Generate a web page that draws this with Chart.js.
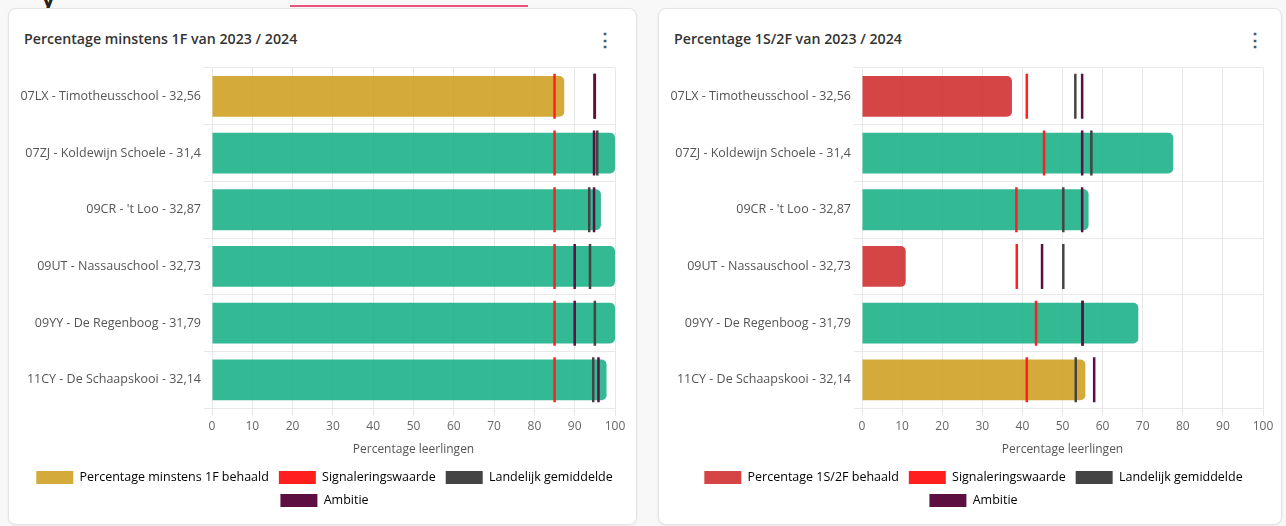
<!DOCTYPE html>
<html>
<head>
<meta charset="utf-8">
<script src="https://cdn.jsdelivr.net/npm/chart.js@4.4.1/dist/chart.umd.min.js"></script>
<style>
  body { margin: 0; width: 1286px; height: 526px; overflow: hidden; background: #f8f8f8; font-family: 'Open Sans', sans-serif; position: relative; }
  .card { position: absolute; top: 8px; height: 517px; background: #fff; border: 1px solid #e3e3e3; border-radius: 8px; box-shadow: 0 1px 3px rgba(0,0,0,0.06); box-sizing: border-box; }
  .title { position: absolute; left: 15px; top: 20px; font-size: 14.2px; font-weight: 600; color: #333; }
  .kebab { position: absolute; top: 20px; left: 587px; font-size: 18px; font-weight: 700; color: #555; line-height: 20px; }
  .wrap { position: absolute; left: 0; top: 34px; bottom: 7px; }
  .topline { position: absolute; left: 290px; top: 5px; width: 238px; height: 2px; background: #e8537a; }
  .cut { position: absolute; left: 42px; top: -17px; font-size: 22px; font-weight: 700; color: #222; }
</style>
</head>
<body>
<div class="cut">y</div>
<div class="topline"></div>
<div class="card" style="left:8px; width:629px;">
  <div class="title">Percentage minstens 1F van 2023 / 2024</div>
  <div class="kebab">&#8942;</div>
  <div class="wrap" style="right:-4px;"><canvas id="chart1"></canvas></div>
</div>
<div class="card" style="left:658px; width:624px;">
  <div class="title">Percentage 1S/2F van 2023 / 2024</div>
  <div class="kebab">&#8942;</div>
  <div class="wrap" style="right:-7px;"><canvas id="chart2"></canvas></div>
</div>
<script>
// Scholen (y-as)
const schools = ['07LX - Timotheusschool - 32,56', '07ZJ - Koldewijn Schoele - 31,4', "09CR - 't Loo - 32,87", '09UT - Nassauschool - 32,73', '09YY - De Regenboog - 31,79', '11CY - De Schaapskooi - 32,14'];
const xTicks = [0, 10, 20, 30, 40, 50, 60, 70, 80, 90, 100];

// 1F
const pct1F = [87.4, 100, 96.5, 100, 100, 97.9];
const signal1F = [85, 85, 85, 85, 85, 85];
const landelijk1F = [94.9, 95.6, 93.6, 93.8, 95.0, 94.6];
const ambitie1F = [95.0, 94.8, 94.8, 90.0, 90.0, 95.9];

// 1S/2F
const pct2F = [37.4, 77.6, 56.5, 10.9, 68.9, 55.7];
const signal2F = [41.1, 45.4, 38.5, 38.6, 43.4, 41.1];
const landelijk2F = [53.2, 57.2, 50.2, 50.2, 55.0, 53.3];
const ambitie2F = [54.9, 54.9, 54.9, 44.9, 55.0, 57.9];

const GREEN = 'rgba(15,173,129,0.85)';
const GOLD = 'rgba(204,156,23,0.85)';
const RED = 'rgba(207,36,36,0.85)';
const SIGNAL = '#ff1f1f';
const LANDELIJK = '#444444';
const AMBITIE = '#5c0f40';

Chart.defaults.font.family = "'Open Sans', sans-serif";
Chart.defaults.font.size = 12;
Chart.defaults.color = '#666';

function barColors(pct, signal, ambitie) {
    return pct.map((v, i) => v < signal[i] ? RED : (v < ambitie[i] ? GOLD : GREEN));
}

function marker(label, data, color, order) {
    return {
        type: 'line', label: label, data: data, order: order,
        indexAxis: 'y', showLine: false,
        pointStyle: 'line', pointRotation: 90,
        pointRadius: 22.5, pointHoverRadius: 22.5,
        pointBorderColor: color, pointBackgroundColor: color,
        pointBorderWidth: 2.5, borderColor: color, backgroundColor: color
    };
}

function makeChart(id, barLabel, pct, signal, landelijk, ambitie) {
    const colors = barColors(pct, signal, ambitie);
    new Chart(document.getElementById(id), {
        type: 'bar',
        data: {
            labels: schools,
            datasets: [
                { label: barLabel, data: pct, backgroundColor: colors, borderRadius: 5, borderSkipped: 'start', order: 4 },
                marker('Signaleringswaarde', signal, SIGNAL, 3),
                marker('Landelijk gemiddelde', landelijk, LANDELIJK, 2),
                marker('Ambitie', ambitie, AMBITIE, 1)
            ]
        },
        options: {
            indexAxis: 'y',
            maintainAspectRatio: false,
            animation: false,
            events: [],
            layout: { padding: 0 },
            plugins: {
                tooltip: { enabled: false },
                legend: {
                    position: 'bottom',
                    labels: {
                        boxWidth: 37, boxHeight: 13, color: '#555',
                        font: { size: 12.5 },
                        generateLabels: () => [
                            { text: barLabel, fillStyle: colors[0], strokeStyle: colors[0], lineWidth: 0, datasetIndex: 0 },
                            { text: 'Signaleringswaarde', fillStyle: SIGNAL, strokeStyle: SIGNAL, lineWidth: 0, datasetIndex: 1 },
                            { text: 'Landelijk gemiddelde', fillStyle: LANDELIJK, strokeStyle: LANDELIJK, lineWidth: 0, datasetIndex: 2 },
                            { text: 'Ambitie', fillStyle: AMBITIE, strokeStyle: AMBITIE, lineWidth: 0, datasetIndex: 3 }
                        ]
                    }
                }
            },
            scales: {
                x: {
                    min: 0, max: 100,
                    afterBuildTicks: (s) => { s.ticks = xTicks.map(v => ({ value: v })); },
                    grid: { color: '#e8e8e8' },
                    border: { color: '#e8e8e8' },
                    ticks: { color: '#666' },
                    title: { display: true, text: 'Percentage leerlingen', color: '#555', padding: { top: 6, bottom: 4 } }
                },
                y: {
                    afterFit: (s) => { s.width = 203; },
                    grid: { color: '#e8e8e8' },
                    border: { color: '#e8e8e8' },
                    ticks: { color: '#555', font: { size: 12.5 } }
                }
            }
        }
    });
}

makeChart('chart1', 'Percentage minstens 1F behaald', pct1F, signal1F, landelijk1F, ambitie1F);
makeChart('chart2', 'Percentage 1S/2F behaald', pct2F, signal2F, landelijk2F, ambitie2F);
</script>
</body>
</html>
